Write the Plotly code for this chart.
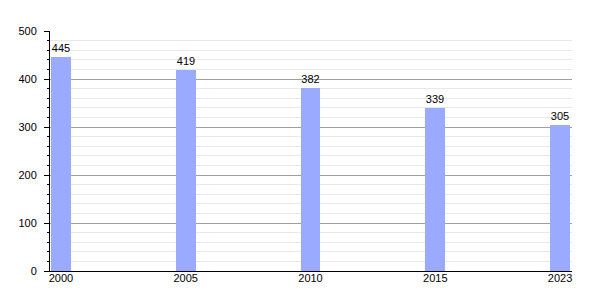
import plotly.graph_objects as go

years = ["2000", "2005", "2010", "2015", "2023"]
values = [445, 419, 382, 339, 305]
xpos = list(range(len(years)))

fig = go.Figure()
fig.add_trace(go.Bar(
    x=xpos, y=values, width=0.16,
    marker=dict(color="#99aaff", line=dict(width=0)),
    text=[str(v) for v in values], textposition="outside",
    textfont=dict(family="Liberation Sans, Arial", size=11, color="black"),
    cliponaxis=False,
))
fig.update_layout(
    width=600, height=300,
    margin=dict(l=50, r=28, t=31, b=29),
    plot_bgcolor="white", paper_bgcolor="white",
    showlegend=False,
    font=dict(family="Liberation Sans, Arial", size=11, color="black"),
    bargap=0,
)
fig.update_xaxes(
    range=[-0.088, 4.096], tickvals=xpos, ticktext=years,
    showgrid=False, showline=True, linecolor="black", linewidth=1,
    ticks="", zeroline=False, ticklabelstandoff=-3,
)
fig.update_yaxes(
    range=[0, 500], dtick=100, showgrid=True, gridcolor="#a0a0a0", gridwidth=1,
    showline=True, linecolor="black", linewidth=1,
    ticks="outside", ticklen=5, tickcolor="black", ticklabelstandoff=5,
    minor=dict(dtick=20, showgrid=True, gridcolor="#e8e8e8", ticks="outside", ticklen=2, tickcolor="black"),
    zeroline=False,
)
fig.write_html("out.html")
